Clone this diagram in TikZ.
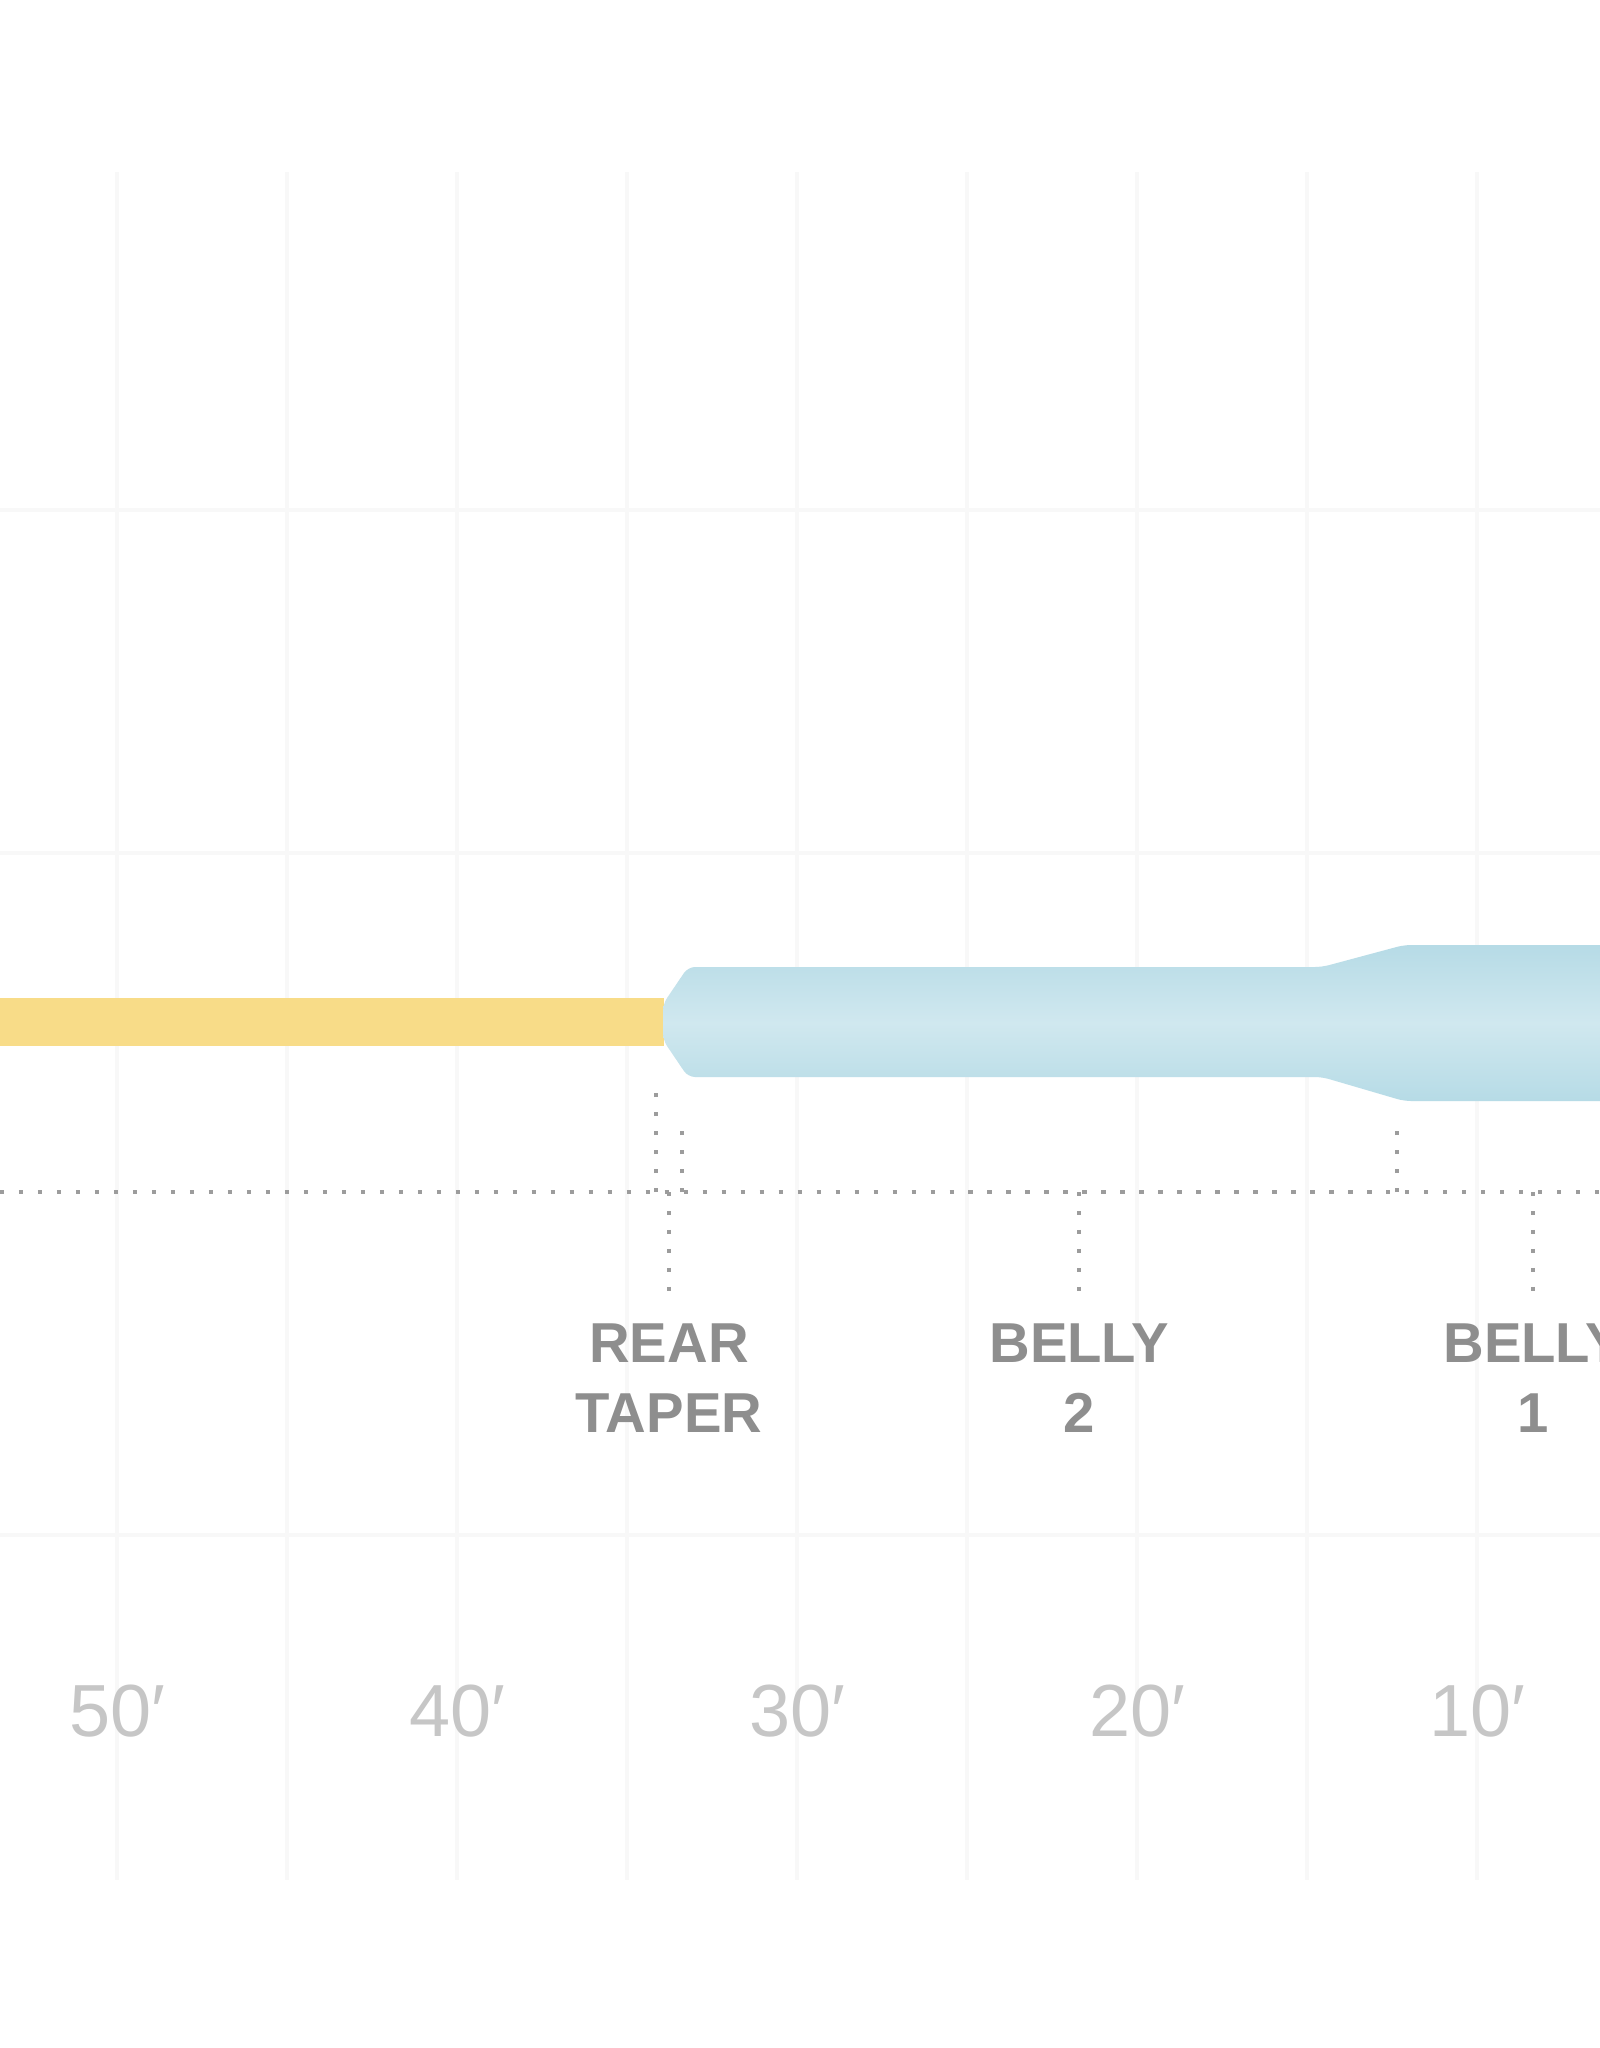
\documentclass[tikz,border=0pt]{standalone}
\usepackage{xcolor}
\usepackage{fontspec}
\setmainfont{Liberation Sans}
\usepackage{tikz}
\usetikzlibrary{positioning}

\definecolor{lineyellow}{HTML}{F8DC88}
\definecolor{blueedge}{HTML}{B6DBE6}
\definecolor{bluemid}{HTML}{D0E8EF}
\definecolor{labelgray}{HTML}{8E8E8E}
\definecolor{feetgray}{HTML}{C6C6C6}
\definecolor{gridgray}{HTML}{F8F8F8}
\definecolor{dotgray}{HTML}{9C9C9C}

\begin{document}
\begin{tikzpicture}[x=0.01cm, y=-0.01cm,
    gridline/.style={gridgray, line width=0.9pt},
    leader/.style={dotgray, line width=1.2pt, dash pattern=on 1.2pt off 4.2pt},
    section/.style={font=\fontsize{16}{19.9}\selectfont\bfseries, text=labelgray, align=center, inner sep=0pt, anchor=north},
    feet/.style={font=\fontsize{21}{24}\selectfont, text=feetgray, inner sep=0pt}]
    \useasboundingbox[fill=white] (0,0) rectangle (1600,2048);
    % Grid
    \foreach \gx in {117,287,...,1477} \draw[gridline] (\gx,172) -- (\gx,1880);
    \foreach \gy in {510,853,1535} \draw[gridline] (0,\gy) -- (1600,\gy);
    % Running line and head
    \fill[lineyellow] (0,998) rectangle (664,1046);
    \shade[top color=blueedge, bottom color=blueedge, middle color=bluemid, rounded corners=2pt]
        (663,1004) -- (688,967) -- (1322,967) -- (1404,945) -- (1610,945)
        -- (1610,1101) -- (1404,1101) -- (1322,1077) -- (688,1077) -- (663,1040) -- cycle;
    % Baseline
    \draw[leader] (0,1192) -- (1600,1192);
    % Section marks above
    \coordinate (mA) at (656,1192);
    \coordinate (mB) at (682,1192);
    \coordinate (mC) at (1397,1192);
    \draw[leader] (mA) -- (656,1091);
    \draw[leader] (mB) -- (682,1123);
    \draw[leader] (mC) -- (1397,1125);
    % Section labels
    \node[section] (rear) at (669,1323) {REAR\\TAPER};
    \node[section] (belly2) at (1079,1323) {BELLY\\2};
    \node[section] (belly1) at (1533,1323) {BELLY\\1};
    \coordinate (tRear) at (669,1192);
    \coordinate (tBelly2) at (1079,1192);
    \coordinate (tBelly1) at (1533,1192);
    \draw[leader, shorten >=6.5pt] (tRear) -- (rear.north);
    \draw[leader, shorten >=6.5pt] (tBelly2) -- (belly2.north);
    \draw[leader, shorten >=7.5pt] (tBelly1) -- (belly1.north);
    % Distance labels
    \foreach \d [count=\i from 0] in {50,40,30,20,10}
        \node[feet] (f\d) at (117+340*\i,1711) {\d′};
\end{tikzpicture}
\end{document}
